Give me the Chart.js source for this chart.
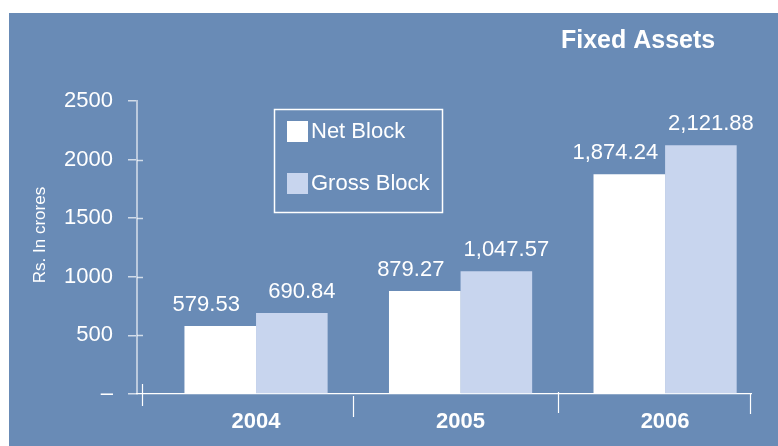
<!DOCTYPE html>
<html>
<head>
<meta charset="utf-8">
<script src="https://cdn.jsdelivr.net/npm/chart.js@4.4.1/dist/chart.umd.min.js"></script>
<style>
  html, body { margin: 0; padding: 0; background: #ffffff; }
  #wrap { width: 778px; height: 446px; }
</style>
</head>
<body>
<div id="wrap"><canvas id="c" width="778" height="446"></canvas></div>
<script>
// ---- data ----
const categories = ['2004', '2005', '2006'];
const netBlock = [579.53, 879.27, 1874.24];
const grossBlock = [690.84, 1047.57, 2121.88];
const seriesNames = ['Net Block', 'Gross Block'];
const yTickLabels = ['–', '500', '1000', '1500', '2000', '2500'];
const chartTitle = 'Fixed Assets';
const yAxisTitle = 'Rs. In crores';

// ---- styles ----
const PANEL = '#698bb6';
const NET_COLOR = '#ffffff';
const GROSS_COLOR = '#c8d5ee';
const FONT = "'Liberation Sans', Arial, Helvetica, sans-serif";

const fmt = v => v.toLocaleString('en-US', { minimumFractionDigits: 2, maximumFractionDigits: 2 });

const decorPlugin = {
  id: 'decor',
  beforeDraw(chart) {
    const ctx = chart.ctx;
    ctx.save();
    ctx.fillStyle = '#ffffff';
    ctx.fillRect(0, 0, chart.width, chart.height);
    ctx.fillStyle = PANEL;
    ctx.fillRect(9, 13, chart.width - 9, chart.height - 13);
    ctx.restore();
  },
  afterDraw(chart) {
    const ctx = chart.ctx;
    const area = chart.chartArea;
    const xs = chart.scales.x;
    const ys = chart.scales.y;
    ctx.save();

    // title
    ctx.fillStyle = '#ffffff';
    ctx.font = 'bold 25px ' + FONT;
    ctx.textAlign = 'left';
    ctx.textBaseline = 'alphabetic';
    ctx.fillText(chartTitle, 561, 48);

    // y axis title
    ctx.save();
    ctx.translate(40, 235);
    ctx.rotate(-Math.PI / 2);
    ctx.font = '17px ' + FONT;
    ctx.textAlign = 'center';
    ctx.textBaseline = 'middle';
    ctx.fillText(yAxisTitle, 0, 0);
    ctx.restore();

    // right half of y tick crosses
    ctx.strokeStyle = 'rgba(255,255,255,0.7)';
    ctx.lineWidth = 1.5;
    ys.ticks.forEach(t => {
      if (t.value > 0 && t.value < ys.max) {
        const py = Math.round(ys.getPixelForValue(t.value)) + 0.5;
        ctx.beginPath();
        ctx.moveTo(area.left, py);
        ctx.lineTo(area.left + 6, py);
        ctx.stroke();
      }
    });

    // x axis decorations
    ctx.strokeStyle = '#ffffff';
    ctx.lineWidth = 1.2;
    const base = area.bottom;
    // cross at origin
    ctx.beginPath();
    ctx.moveTo(area.left + 5.5, base - 10);
    ctx.lineTo(area.left + 5.5, base + 12);
    ctx.stroke();
    // category separators
    const sepDrops = [[2, 23], [-2, 19]];
    for (let i = 0; i < categories.length - 1; i++) {
      const px = Math.round(xs.getPixelForValue(i + 0.5)) - 4.5;
      ctx.beginPath();
      ctx.moveTo(px, base + sepDrops[i][0]);
      ctx.lineTo(px, base + sepDrops[i][1]);
      ctx.stroke();
    }
    // right end tick
    ctx.beginPath();
    ctx.moveTo(area.right - 0.5, base);
    ctx.lineTo(area.right - 0.5, base + 20);
    ctx.stroke();

    // legend
    ctx.strokeStyle = '#ffffff';
    ctx.lineWidth = 1.5;
    ctx.strokeRect(274.5, 109.5, 168, 103);
    ctx.font = '22px ' + FONT;
    ctx.textAlign = 'left';
    ctx.textBaseline = 'middle';
    chart.data.datasets.forEach((ds, i) => {
      const top = 121 + i * 52;
      ctx.fillStyle = ds.backgroundColor;
      ctx.fillRect(287, top, 21, 21);
      ctx.fillStyle = '#ffffff';
      ctx.fillText(ds.label, 311, top + 11);
    });

    // value labels
    const dx = [-14, 10];
    ctx.font = '22px ' + FONT;
    ctx.fillStyle = '#ffffff';
    ctx.textAlign = 'center';
    ctx.textBaseline = 'alphabetic';
    chart.data.datasets.forEach((ds, d) => {
      const meta = chart.getDatasetMeta(d);
      meta.data.forEach((bar, i) => {
        ctx.fillText(fmt(ds.data[i].y), bar.x + dx[d], bar.y - 15);
      });
    });

    ctx.restore();
  }
};

new Chart(document.getElementById('c'), {
  type: 'bar',
  data: {
    datasets: [
      {
        label: seriesNames[0],
        data: netBlock.map((y, i) => ({ x: i, y })),
        backgroundColor: NET_COLOR,
        borderWidth: 0
      },
      {
        label: seriesNames[1],
        data: grossBlock.map((y, i) => ({ x: i, y })),
        backgroundColor: GROSS_COLOR,
        borderWidth: 0
      }
    ]
  },
  options: {
    responsive: false,
    animation: false,
    devicePixelRatio: 1,
    categoryPercentage: 0.7,
    barPercentage: 1.0,
    layout: { padding: { top: 101, right: 27, bottom: 0, left: 0 } },
    plugins: {
      legend: { display: false },
      title: { display: false },
      tooltip: { enabled: false }
    },
    scales: {
      x: {
        type: 'linear',
        position: 'bottom',
        offset: false,
        bounds: 'ticks',
        min: -0.582,
        max: 2.42,
        afterFit: s => { s.height = 52; },
        afterBuildTicks: s => { s.ticks = categories.map((c, i) => ({ value: i })); },
        grid: { display: false, drawTicks: false, drawOnChartArea: false, offset: false },
        border: { display: true, color: '#ffffff', width: 1.2 },
        ticks: {
          callback: v => categories[v],
          color: '#ffffff',
          font: { family: FONT, size: 22, weight: 'bold' },
          padding: 15,
          maxRotation: 0,
          autoSkip: false
        }
      },
      y: {
        min: 0,
        max: 2500,
        afterFit: s => { s.width = 137; },
        grid: {
          display: true,
          drawOnChartArea: false,
          drawTicks: true,
          tickLength: 9,
          color: 'rgba(255,255,255,0.7)',
          lineWidth: 1.5
        },
        border: { display: true, color: 'rgba(255,255,255,0.55)', width: 2 },
        ticks: {
          stepSize: 500,
          callback: (v, i) => yTickLabels[i],
          color: '#ffffff',
          font: { family: FONT, size: 22 },
          padding: 15
        },
        title: { display: false }
      }
    }
  },
  plugins: [decorPlugin]
});
</script>
</body>
</html>
